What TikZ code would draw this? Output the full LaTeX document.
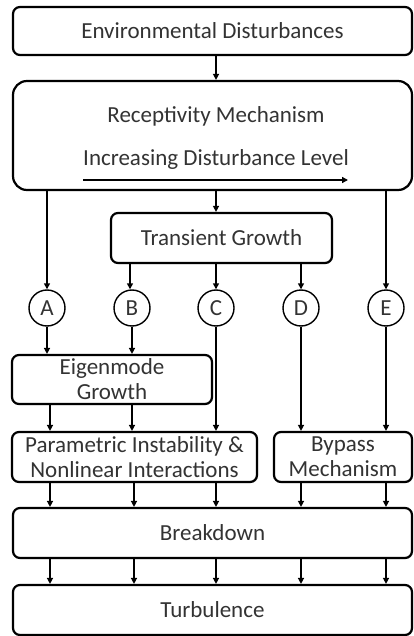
\documentclass[tikz,border=0pt]{standalone}
\usepackage{fontspec}
\setmainfont{Carlito}
\usetikzlibrary{arrows.meta,shadows}
\definecolor{txt}{HTML}{333333}
\tikzset{
  box/.style={draw=black, line width=2.2pt, rounded corners=7pt, fill=white,
    drop shadow={shadow xshift=1pt, shadow yshift=-1pt, opacity=0.35},
    text=txt, font=\fontsize{23}{26}\selectfont, inner sep=0pt, align=center},
  circ/.style={draw=black, circle, line width=1.4pt, minimum size=36pt, inner sep=0pt,
    text=txt, font=\fontsize{23}{26}\selectfont},
  lbl/.style={text=txt, font=\fontsize{23}{26}\selectfont, inner sep=0pt},
  arr/.style={line width=1.4pt, -{Triangle[length=6pt,width=6pt]}},
  ln/.style={line width=1.4pt}
}
\begin{document}
\begin{tikzpicture}[x=1pt,y=-1pt]
\useasboundingbox (0,0) rectangle (413,636);
% boxes
\node[box, minimum width=399pt, minimum height=48pt] (env) at (212.5,31) {Environmental Disturbances};
\node[box, rounded corners=14pt, minimum width=399pt, minimum height=109pt] (rec) at (212.5,135.5) {};
\node[lbl] (rect) at (216,116) {Receptivity Mechanism};
\node[lbl] (inc) at (216,159) {Increasing Disturbance Level};
\coordinate (incL) at (83,180);
\coordinate (incR) at (348,180);
\draw[arr] (incL) -- (incR);
\node[box, minimum width=221pt, minimum height=50pt] (tg) at (221.5,238) {Transient Growth};
\node[circ] (A) at (47,308) {A};
\node[circ] (B) at (132,308) {B};
\node[circ] (C) at (216,308) {C};
\node[circ] (D) at (301,308) {D};
\node[circ] (E) at (386,308) {E};
\node[box, minimum width=200pt, minimum height=49pt] (eig) at (112,379.5) {Eigenmode\\[-1pt]Growth};
\node[box, minimum width=245pt, minimum height=50pt] (par) at (134.5,457) {Parametric Instability \&\\[-1pt]Nonlinear Interactions};
\node[box, minimum width=138pt, minimum height=50pt] (byp) at (343,457) {Bypass\\[-1pt]Mechanism};
\node[box, minimum width=399pt, minimum height=50pt] (brk) at (212.5,533) {Breakdown};
\node[box, minimum width=399pt, minimum height=50pt] (tur) at (212.5,610) {Turbulence};
% column coordinates
\coordinate (ca) at (47,0);
\coordinate (ca2) at (50,0);
\coordinate (cb0) at (130,0);
\coordinate (cb) at (132,0);
\coordinate (cb2) at (134,0);
\coordinate (cc) at (216,0);
\coordinate (cd) at (301,0);
\coordinate (ce) at (386,0);
% connectors
\draw[arr] (env.south -| cc) -- (rec.north -| cc);
\draw[arr] (rec.south -| ca) -- (A.north);
\draw[arr] (rec.south -| cc) -- (tg.north -| cc);
\draw[arr] (rec.south -| ce) -- (E.north);
\draw[arr] (tg.south -| cb0) -- (B.north -| cb0);
\draw[arr] (tg.south -| cc) -- (C.north);
\draw[arr] (tg.south -| cd) -- (D.north);
\draw[arr] (A.south) -- (eig.north -| ca);
\draw[arr] (B.south) -- (eig.north -| cb);
\draw[arr] (C.south) -- (par.north -| cc);
\draw[arr] (D.south) -- (byp.north -| cd);
\draw[arr] (E.south) -- (byp.north -| ce);
\draw[arr] (eig.south -| ca2) -- (par.north -| ca2);
\draw[arr] (eig.south -| cb) -- (par.north -| cb);
\draw[arr] (par.south -| ca2) -- (brk.north -| ca2);
\draw[arr] (par.south -| cb2) -- (brk.north -| cb2);
\draw[arr] (par.south -| cc) -- (brk.north -| cc);
\draw[arr] (byp.south -| cd) -- (brk.north -| cd);
\draw[arr] (byp.south -| ce) -- (brk.north -| ce);
\draw[arr] (brk.south -| ca2) -- (tur.north -| ca2);
\draw[arr] (brk.south -| cb2) -- (tur.north -| cb2);
\draw[arr] (brk.south -| cc) -- (tur.north -| cc);
\draw[arr] (brk.south -| cd) -- (tur.north -| cd);
\draw[arr] (brk.south -| ce) -- (tur.north -| ce);
\end{tikzpicture}
\end{document}
